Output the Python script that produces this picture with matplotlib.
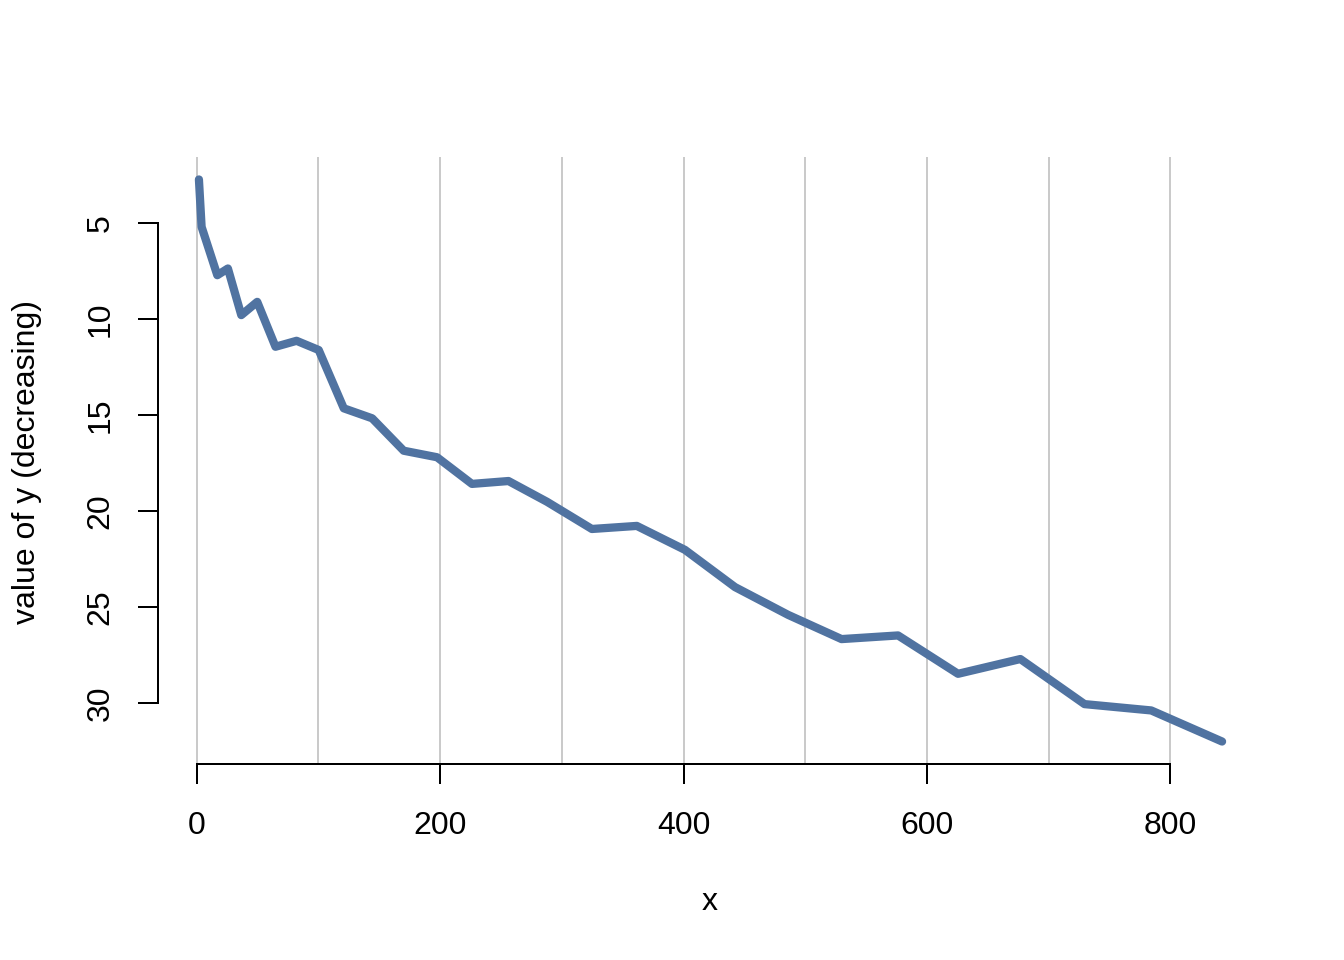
import matplotlib
matplotlib.use("Agg")
import matplotlib.pyplot as plt
import numpy as np

plt.rcParams['font.family'] = ['Liberation Sans', 'DejaVu Sans']

x_vals = [1.9, 4.1, 17.0, 25.7, 36.7, 49.8, 64.8, 82.1, 100.3, 120.9, 144.2,
          170.1, 197.5, 226.2, 256.2, 287.8, 324.7, 361.6, 401.2, 442.3, 486.0,
          529.8, 576.2, 625.5, 676.7, 729.4, 784.2, 842.4]
y_vals = [2.72, 5.19, 7.71, 7.36, 9.79, 9.10, 11.44, 11.13, 11.61, 14.65, 15.17,
          16.86, 17.20, 18.59, 18.44, 19.52, 20.94, 20.78, 22.03, 23.97, 25.42,
          26.68, 26.49, 28.49, 27.72, 30.07, 30.40, 32.02]
x_ticks = [0, 200, 400, 600, 800]
x_grid = [0, 100, 200, 300, 400, 500, 600, 700, 800]
y_ticks = [5, 10, 15, 20, 25, 30]

fig = plt.figure(figsize=(7, 5), dpi=192)
ax = fig.add_axes([158/1344, 1-764/960, (1263-158)/1344, (764-157)/960])

xr = max(x_vals) - min(x_vals)
yr = max(y_vals) - min(y_vals)
ax.set_xlim(min(x_vals) - 0.04*xr, max(x_vals) + 0.04*xr)
ax.set_ylim(max(y_vals) + 0.04*yr, min(y_vals) - 0.04*yr)

for g in x_grid:
    ax.axvline(g, color='#BEBEBE', lw=0.6, zorder=1)

ax.plot(x_vals, y_vals, color='#5073A1', lw=3.1, solid_capstyle='round',
        solid_joinstyle='round', zorder=3)

for s in ['top', 'right']:
    ax.spines[s].set_visible(False)
ax.spines['left'].set_bounds(5, 30)
ax.spines['bottom'].set_bounds(0, 800)
ax.spines['left'].set_linewidth(0.75)
ax.spines['bottom'].set_linewidth(0.75)

ax.set_xticks(x_ticks)
ax.set_yticks(y_ticks)
ax.set_yticklabels([str(v) for v in y_ticks], rotation=90, va='center')
ax.tick_params(axis='both', length=7.5, width=0.75, direction='out',
               labelsize=12)
ax.tick_params(axis='x', pad=10)
ax.tick_params(axis='y', pad=8.5)

fig.text(710/1344, 1-902/960, 'x', ha='center', va='center', fontsize=12)
fig.text(27/1344, 1-462/960, 'value of y (decreasing)', ha='center',
         va='center', rotation=90, fontsize=12)

fig.savefig('out.png', dpi=192)
